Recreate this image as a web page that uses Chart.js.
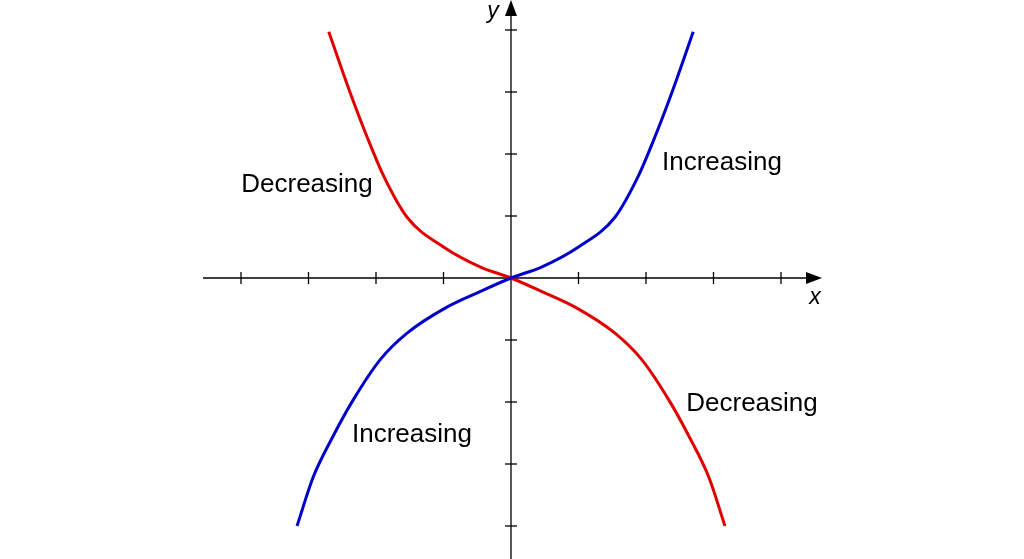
<!DOCTYPE html>
<html><head><meta charset="utf-8">
<script src="https://cdn.jsdelivr.net/npm/chart.js@4"></script>
<style>html,body{margin:0;padding:0;background:#fff}#w{width:1024px;height:559px}</style>
</head><body><div id="w"><canvas id="c"></canvas></div>
<script>
const blueX = [-3.17,-2.93,-2.64,-2.34,-1.94,-1.54,-0.95,-0.46,0,0.46,1.0,1.54,1.88,2.13,2.38,2.70];
const blueY = [-4.0,-3.21,-2.56,-1.97,-1.32,-0.89,-0.47,-0.22,0,0.18,0.5,0.98,1.63,2.27,2.98,3.97];
const redX = blueX.map(v=>-v).reverse();
const redY = blueY.slice().reverse();
const xTicks = [-4,-3,-2,-1,1,2,3,4];
const yTicks = [-4,-3,-2,-1,1,2,3,4];
const labels = [
 {text:'Decreasing', x:(307-511)/67.5, y:(278-185)/62},
 {text:'Increasing', x:(722-511)/67.5, y:(278-163)/62},
 {text:'Increasing', x:(412-511)/67.5, y:(278-435)/62},
 {text:'Decreasing', x:(752-511)/67.5, y:(278-404)/62}
];
const axesPlugin = {
 id:'axes',
 beforeDatasetsDraw(chart){
  const ctx=chart.ctx, xs=chart.scales.x, ys=chart.scales.y;
  const x0=xs.getPixelForValue(0), y0=ys.getPixelForValue(0);
  ctx.save();
  ctx.strokeStyle='#000'; ctx.fillStyle='#000'; ctx.lineWidth=1.3;
  ctx.beginPath(); ctx.moveTo(203,y0); ctx.lineTo(812,y0); ctx.stroke();
  ctx.beginPath(); ctx.moveTo(x0,559); ctx.lineTo(x0,8); ctx.stroke();
  ctx.beginPath(); ctx.moveTo(822,y0); ctx.lineTo(806,y0-6); ctx.lineTo(806,y0+6); ctx.closePath(); ctx.fill();
  ctx.beginPath(); ctx.moveTo(x0,0); ctx.lineTo(x0-6,16); ctx.lineTo(x0+6,16); ctx.closePath(); ctx.fill();
  xTicks.forEach(t=>{const p=xs.getPixelForValue(t); ctx.beginPath(); ctx.moveTo(p,y0-6); ctx.lineTo(p,y0+6); ctx.stroke();});
  yTicks.forEach(t=>{const p=ys.getPixelForValue(t); ctx.beginPath(); ctx.moveTo(x0-6,p); ctx.lineTo(x0+6,p); ctx.stroke();});
  ctx.font='italic 23px "Liberation Sans", Arial'; ctx.textAlign='center'; ctx.textBaseline='middle';
  ctx.fillText('x', 815, y0+20);
  ctx.fillText('y', x0-18, 12);
  ctx.font='26px "Liberation Sans", Arial';
  labels.forEach(l=>ctx.fillText(l.text, xs.getPixelForValue(l.x), ys.getPixelForValue(l.y)));
  ctx.restore();
 }
};
new Chart(document.getElementById('c'),{
 type:'scatter',
 data:{datasets:[
  {data:blueX.map((x,i)=>({x,y:blueY[i]})),borderColor:'#0000c8',showLine:true,pointRadius:0,borderWidth:3,cubicInterpolationMode:'monotone'},
  {data:redX.map((x,i)=>({x,y:redY[i]})),borderColor:'#e00000',showLine:true,pointRadius:0,borderWidth:3,cubicInterpolationMode:'monotone'}
 ]},
 options:{responsive:true,maintainAspectRatio:false,animation:false,
  layout:{padding:0},
  plugins:{legend:{display:false},tooltip:{enabled:false}},
  scales:{
   x:{type:'linear',display:false,min:-511/67.5,max:513/67.5},
   y:{type:'linear',display:false,min:-281/62,max:278/62}
  }},
 plugins:[axesPlugin]
});
</script></body></html>
